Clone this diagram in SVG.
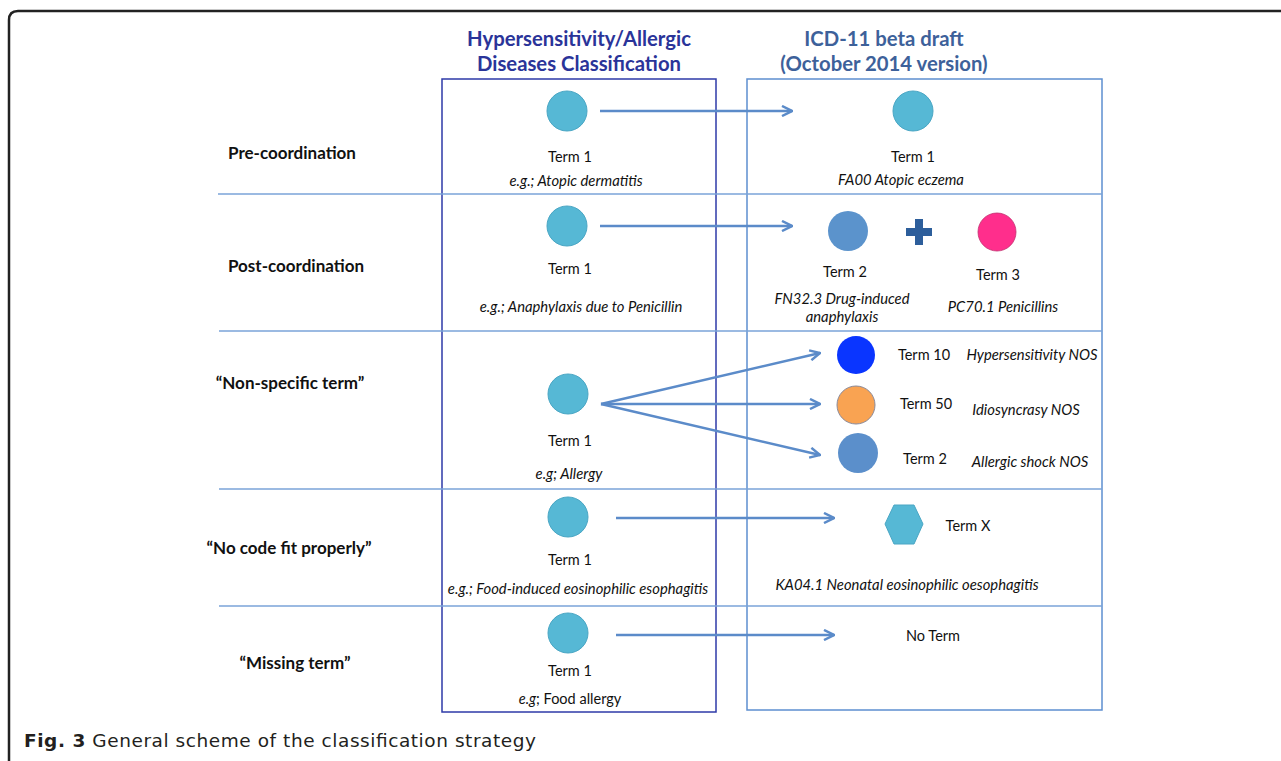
<svg xmlns="http://www.w3.org/2000/svg" width="1281" height="761" viewBox="0 0 1281 761">
<style>
.t{font-family:Lato,"Liberation Sans",sans-serif;font-size:14.5px;fill:#111;text-anchor:middle}
.i{font-family:Lato,"Liberation Sans",sans-serif;font-size:14.8px;font-style:italic;fill:#111;text-anchor:middle}
.lab{font-family:Lato,"Liberation Sans",sans-serif;font-size:17px;font-weight:bold;fill:#111;text-anchor:middle}
.h1{font-family:Lato,"Liberation Sans",sans-serif;font-size:20.3px;font-weight:bold;fill:#2a3499;text-anchor:middle}
.h2{font-family:Lato,"Liberation Sans",sans-serif;font-size:20.3px;font-weight:bold;fill:#3d619a;text-anchor:middle}
.c{fill:#56b8d5;stroke:#4aa6c4;stroke-width:1}
.sep{stroke:#7aa3d8;stroke-width:1.5;fill:none}
.arr{stroke:#5b8bc9;stroke-width:2.5;fill:none;marker-end:url(#ah)}
</style>
<defs>
<marker id="ah" viewBox="0 0 12 12" refX="11" refY="6" markerWidth="12" markerHeight="12" markerUnits="userSpaceOnUse" orient="auto">
<path d="M1,1 L11,6 L1,11" fill="none" stroke="#5b8bc9" stroke-width="2.5"/>
</marker>
</defs>
<rect width="1281" height="761" fill="#fff"/>
<path d="M9,761 L9,20 Q9,11 18,11 L1281,11" fill="none" stroke="#222" stroke-width="2.5"/>

<g id="headers">
<text class="h1" x="579" y="46">Hypersensitivity/Allergic</text>
<text class="h1" x="579" y="71">Diseases Classification</text>
<text class="h2" x="884" y="46">ICD-11 beta draft</text>
<text class="h2" x="884" y="71">(October 2014 version)</text>
</g>

<g id="frames">
<rect x="442" y="79" width="274" height="633" fill="none" stroke="#2e3aa8" stroke-width="1.5"/>
<rect x="747" y="79" width="355" height="631" fill="none" stroke="#5d8fd0" stroke-width="1.5"/>
<line class="sep" x1="218" y1="194" x2="1102" y2="194"/>
<line class="sep" x1="219" y1="331" x2="1102" y2="331"/>
<line class="sep" x1="219" y1="489" x2="1102" y2="489"/>
<line class="sep" x1="219" y1="606" x2="1102" y2="606"/>
</g>

<g id="row-labels">
<text class="lab" x="292" y="159">Pre-coordination</text>
<text class="lab" x="296" y="272">Post-coordination</text>
<text class="lab" x="290" y="389">“Non-specific term”</text>
<text class="lab" x="289" y="554">“No code fit properly”</text>
<text class="lab" x="295" y="669">“Missing term”</text>
</g>

<g id="connectors">
<line class="arr" x1="600" y1="111" x2="792" y2="111"/>
<line class="arr" x1="600" y1="226" x2="792" y2="226"/>
<line class="arr" x1="601" y1="404" x2="820" y2="353"/>
<line class="arr" x1="601" y1="404" x2="820" y2="404"/>
<line class="arr" x1="601" y1="404" x2="820" y2="455"/>
<line class="arr" x1="616" y1="518" x2="834" y2="518"/>
<line class="arr" x1="616" y1="635" x2="834" y2="635"/>
</g>

<g id="src-pre">
<circle class="c" cx="567" cy="111" r="20"/>
<text class="t" x="570" y="162">Term 1</text>
<text class="i" x="576" y="186">e.g.; Atopic dermatitis</text>
</g>
<g id="tgt-pre">
<circle class="c" cx="913" cy="111" r="20"/>
<text class="t" x="913" y="162">Term 1</text>
<text class="i" x="901" y="185">FA00 Atopic eczema</text>
</g>

<g id="src-post">
<circle class="c" cx="567" cy="226" r="20"/>
<text class="t" x="570" y="274">Term 1</text>
<text class="i" x="581" y="312">e.g.; Anaphylaxis due to Penicillin</text>
</g>
<g id="tgt-post-2">
<circle cx="848" cy="231" r="20" fill="#5b93cc"/>
<text class="t" x="845" y="277">Term 2</text>
<text class="i" x="842" y="304">FN32.3 Drug-induced</text>
<text class="i" x="842" y="322">anaphylaxis</text>
</g>
<g id="plus">
<path d="M919,219 L919,245 M906,232 L932,232" stroke="#2d5e9b" stroke-width="8" fill="none"/>
</g>
<g id="tgt-post-3">
<circle cx="997" cy="232" r="19" fill="#ff2e8c" stroke="#c0306e" stroke-width="0.8"/>
<text class="t" x="998" y="280">Term 3</text>
<text class="i" x="1003" y="312">PC70.1 Penicillins</text>
</g>

<g id="src-nonspec">
<circle class="c" cx="568" cy="394" r="20"/>
<text class="t" x="570" y="446">Term 1</text>
<text class="i" x="569" y="479">e.g; Allergy</text>
</g>
<g id="tgt-term10">
<circle cx="856" cy="355" r="19" fill="#0a35ff"/>
<text class="t" x="924" y="360">Term 10</text>
<text class="i" x="1032" y="360">Hypersensitivity NOS</text>
</g>
<g id="tgt-term50">
<circle cx="856" cy="405" r="19" fill="#f9a352" stroke="#8a8a9a" stroke-width="1"/>
<text class="t" x="926" y="409">Term 50</text>
<text class="i" x="1026" y="415">Idiosyncrasy NOS</text>
</g>
<g id="tgt-term2">
<circle cx="858" cy="453" r="20" fill="#5b8fcb"/>
<text class="t" x="925" y="464">Term 2</text>
<text class="i" x="1030" y="467">Allergic shock NOS</text>
</g>

<g id="src-nocode">
<circle class="c" cx="568" cy="517" r="20"/>
<text class="t" x="570" y="565">Term 1</text>
<text class="i" x="578" y="594">e.g.; Food-induced eosinophilic esophagitis</text>
</g>
<g id="tgt-termx">
<polygon points="885,524 894,505 914,505 923,524 914,544 894,544" fill="#56b8d5" stroke="#4aa6c4" stroke-width="1"/>
<text class="t" x="968" y="531">Term X</text>
<text class="i" x="907" y="590">KA04.1 Neonatal eosinophilic oesophagitis</text>
</g>

<g id="src-missing">
<circle class="c" cx="568" cy="633" r="20"/>
<text class="t" x="570" y="676">Term 1</text>
<text class="t" x="570" y="704"><tspan font-style="italic">e.g</tspan>; Food allergy</text>
</g>
<g id="tgt-noterm">
<text class="t" x="933" y="641">No Term</text>
</g>

<g id="caption">
<text x="24" y="747" font-family="'DejaVu Sans','Liberation Sans',sans-serif" font-size="18.5" fill="#231f20" textLength="512" lengthAdjust="spacing"><tspan font-weight="bold">Fig. 3</tspan> General scheme of the classification strategy</text>
</g>
</svg>
